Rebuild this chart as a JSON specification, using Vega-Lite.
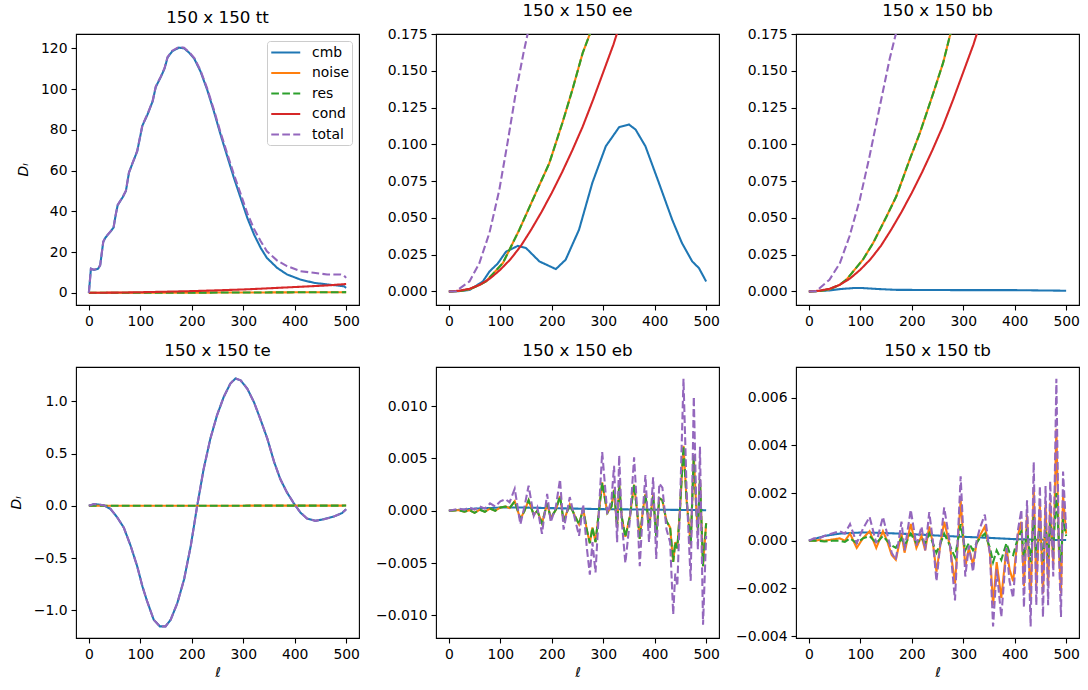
{
"$schema": "https://vega.github.io/schema/vega-lite/v6.json",
"padding": {"top": 2, "left": 8, "right": 10, "bottom": 5},
"config": {
  "font": "DejaVu Sans",
  "view": {"stroke": "#000000", "strokeWidth": 1.1},
  "axis": {"domain": false, "grid": false, "tickColor": "#000000", "tickWidth": 1.1, "tickSize": 5, "labelColor": "#000000", "labelFontSize": 13.9, "labelPadding": 4, "labelFlush": false, "labelOverlap": false, "titleFontSize": 13.9, "titleFontWeight": "normal", "titleColor": "#000000", "titleFontStyle": "italic"},
  "axisY": {"titlePadding": 10},
  "axisX": {"titlePadding": 5},
  "title": {"fontSize": 16.7, "fontWeight": "normal", "color": "#000000", "offset": 7, "baseline": "alphabetic", "anchor": "middle"},
  "line": {"strokeWidth": 2.08, "clip": true}
},
"datasets": {
"tt": [
{"l":0,"cmb":0,"noise":0,"res":0,"cond":0,"total":0},
{"l":4,"cmb":11.8,"total":11.8},
{"l":10,"cmb":11.2,"total":11.3},
{"l":18,"cmb":11.8,"total":11.9},
{"l":22,"cmb":13.5,"total":13.6},
{"l":28,"cmb":25,"total":25.1},
{"l":32,"cmb":27,"total":27.1},
{"l":42,"cmb":30,"total":30.1},
{"l":48,"cmb":32,"total":32.1},
{"l":52,"cmb":38,"cond":0.08,"total":38.1},
{"l":56,"cmb":43,"total":43.1},
{"l":66,"cmb":47,"total":47.1},
{"l":72,"cmb":50,"total":50.1},
{"l":78,"cmb":59,"total":59.1},
{"l":84,"cmb":63,"total":63.1},
{"l":94,"cmb":69.5,"total":69.6},
{"l":100,"cmb":77,"cond":0.27,"total":77.2},
{"l":104,"cmb":82,"total":82.2},
{"l":114,"cmb":87.5,"total":87.7},
{"l":124,"cmb":94,"total":94.2},
{"l":130,"cmb":101,"total":101.2},
{"l":140,"cmb":106,"total":106.2},
{"l":147,"cmb":110,"total":110.2},
{"l":153,"cmb":115.5,"cond":0.55,"total":115.7},
{"l":162,"cmb":118.5,"total":118.8},
{"l":175,"cmb":120.3,"total":120.6},
{"l":185,"cmb":120,"total":120.3},
{"l":195,"cmb":117.8,"total":118.1},
{"l":205,"cmb":114.8,"cond":0.85,"total":115.2},
{"l":217,"cmb":108.6,"total":109.1},
{"l":230,"cmb":99.6,"total":100.2},
{"l":243,"cmb":89,"total":89.8},
{"l":256,"cmb":77.6,"noise":0.1,"res":0.1,"cond":1.25,"total":78.6},
{"l":269,"cmb":66.9,"total":68.2},
{"l":282,"cmb":56.3,"total":58},
{"l":295,"cmb":46.5,"total":48.5},
{"l":308,"cmb":36.7,"cond":1.7,"total":39},
{"l":321,"cmb":28.6,"total":31.3},
{"l":334,"cmb":22,"total":25.3},
{"l":346,"cmb":17.1,"total":20.4},
{"l":366,"cmb":12.2,"cond":2.4,"total":15.8},
{"l":385,"cmb":9,"total":13.1},
{"l":411,"cmb":6.5,"cond":2.95,"total":10.6},
{"l":437,"cmb":4.9,"total":9.8},
{"l":463,"cmb":4.1,"cond":3.6,"total":9.0},
{"l":489,"cmb":3.4,"total":9.0},
{"l":496,"cmb":3.2,"total":8.4},
{"l":500,"cmb":2.4,"noise":0.3,"res":0.3,"cond":4.3,"total":7.3}
],
"ee": [
{"l":0,"cmb":0,"noise":0,"res":0,"cond":0,"total":0},
{"l":14,"total":0.0002},
{"l":20,"cmb":0.0002,"noise":0.0003,"res":0.0003,"cond":0.0005},
{"l":40,"cmb":0.001,"noise":0.0015,"res":0.0015,"cond":0.0018,"total":0.0068},
{"l":59,"total":0.019},
{"l":60,"noise":0.0045,"res":0.0045,"cond":0.0045},
{"l":66,"cmb":0.0068},
{"l":72,"noise":0.0068,"res":0.0068},
{"l":79,"cmb":0.0136,"total":0.04},
{"l":80,"cond":0.0088},
{"l":95,"cmb":0.019},
{"l":98,"total":0.069},
{"l":100,"cond":0.0148},
{"l":105,"noise":0.0193,"res":0.0193},
{"l":111,"cmb":0.027},
{"l":114,"total":0.101},
{"l":120,"cond":0.022},
{"l":130,"total":0.135},
{"l":134,"cmb":0.031},
{"l":137,"noise":0.042,"res":0.042},
{"l":140,"cond":0.031},
{"l":145,"total":0.162},
{"l":150,"cmb":0.0295},
{"l":153,"total":0.175},
{"l":160,"cond":0.042},
{"l":169,"noise":0.067,"res":0.067},
{"l":176,"cmb":0.0204},
{"l":180,"cond":0.054,"total":0.24},
{"l":195,"noise":0.087,"res":0.087},
{"l":200,"cond":0.067},
{"l":208,"cmb":0.0152},
{"l":220,"cond":0.081},
{"l":221,"noise":0.115,"res":0.115},
{"l":227,"cmb":0.0216},
{"l":240,"noise":0.137,"res":0.137,"cond":0.096},
{"l":253,"cmb":0.042},
{"l":260,"noise":0.162,"res":0.162,"cond":0.112},
{"l":274,"noise":0.175,"res":0.175},
{"l":279,"cmb":0.074},
{"l":280,"cond":0.13},
{"l":300,"noise":0.21,"res":0.21,"cond":0.149,"total":0.6},
{"l":305,"cmb":0.0987},
{"l":320,"cond":0.168},
{"l":331,"cmb":0.1117},
{"l":340,"cond":0.19},
{"l":350,"cmb":0.1135},
{"l":363,"cmb":0.11},
{"l":382,"cmb":0.0987},
{"l":400,"noise":0.36,"res":0.36,"cond":0.26},
{"l":408,"cmb":0.074},
{"l":434,"cmb":0.0488},
{"l":453,"cmb":0.0329},
{"l":473,"cmb":0.0204},
{"l":486,"cmb":0.0159},
{"l":500,"cmb":0.0068,"noise":0.55,"res":0.55,"cond":0.4,"total":1.5}
],
"bb": [
{"l":0,"cmb":0,"noise":0,"res":0,"cond":0,"total":0},
{"l":14,"total":0.0002},
{"l":20,"noise":0.0003,"res":0.0003,"cond":0.0005},
{"l":40,"cmb":0.0007,"noise":0.0015,"res":0.0015,"cond":0.0018,"total":0.008},
{"l":60,"cmb":0.0016,"noise":0.0045,"res":0.0045,"cond":0.0045,"total":0.019},
{"l":73,"noise":0.008,"res":0.008},
{"l":79,"total":0.0375},
{"l":80,"cond":0.0088},
{"l":86,"cmb":0.0023},
{"l":99,"total":0.0624},
{"l":100,"cond":0.0148},
{"l":105,"cmb":0.0023,"noise":0.0216,"res":0.0216},
{"l":118,"total":0.092},
{"l":120,"cond":0.022},
{"l":125,"noise":0.033,"res":0.033},
{"l":138,"cmb":0.0016,"total":0.126},
{"l":140,"cond":0.031},
{"l":151,"noise":0.051,"res":0.051},
{"l":157,"total":0.158},
{"l":160,"cond":0.042},
{"l":169,"total":0.175},
{"l":170,"cmb":0.0011,"noise":0.0647,"res":0.0647},
{"l":180,"cond":0.054},
{"l":196,"noise":0.0897,"res":0.0897},
{"l":200,"cond":0.067,"total":0.25},
{"l":216,"noise":0.108,"res":0.108},
{"l":220,"cond":0.081},
{"l":240,"cond":0.096},
{"l":242,"noise":0.135,"res":0.135},
{"l":260,"cond":0.112},
{"l":261,"noise":0.1555,"res":0.1555},
{"l":275,"noise":0.175,"res":0.175},
{"l":280,"cond":0.13},
{"l":300,"cmb":0.0009,"noise":0.21,"res":0.21,"cond":0.149,"total":0.6},
{"l":320,"cond":0.168},
{"l":340,"cond":0.19},
{"l":400,"cmb":0.0009,"noise":0.36,"res":0.36,"cond":0.26},
{"l":500,"cmb":0.0005,"noise":0.55,"res":0.55,"cond":0.4,"total":1.4}
],
"te": [
{"l":0,"cmb":0,"noise":0,"res":0,"total":0},
{"l":10,"cmb":0.016,"total":0.016},
{"l":29,"cmb":0.006,"total":0.006},
{"l":42,"cmb":-0.03,"total":-0.03},
{"l":55,"cmb":-0.11,"total":-0.11},
{"l":68,"cmb":-0.21,"total":-0.21},
{"l":81,"cmb":-0.38,"total":-0.38},
{"l":94,"cmb":-0.58,"total":-0.58},
{"l":104,"cmb":-0.77,"total":-0.77},
{"l":113,"cmb":-0.91,"total":-0.91},
{"l":126,"cmb":-1.09,"total":-1.09},
{"l":138,"cmb":-1.154,"total":-1.154},
{"l":149,"cmb":-1.154,"total":-1.154},
{"l":159,"cmb":-1.09,"total":-1.09},
{"l":172,"cmb":-0.93,"total":-0.93},
{"l":185,"cmb":-0.705,"total":-0.705},
{"l":198,"cmb":-0.385,"total":-0.385},
{"l":210,"cmb":-0.016,"total":-0.016},
{"l":223,"cmb":0.35,"total":0.35},
{"l":236,"cmb":0.64,"total":0.64},
{"l":249,"cmb":0.865,"total":0.865},
{"l":250,"noise":0.001,"res":0.001},
{"l":262,"cmb":1.04,"total":1.04},
{"l":275,"cmb":1.17,"total":1.17},
{"l":285,"cmb":1.218,"total":1.218},
{"l":295,"cmb":1.2,"total":1.2},
{"l":308,"cmb":1.12,"total":1.12},
{"l":321,"cmb":0.99,"total":0.99},
{"l":334,"cmb":0.82,"total":0.82},
{"l":347,"cmb":0.64,"total":0.64},
{"l":360,"cmb":0.42,"total":0.42},
{"l":372,"cmb":0.256,"total":0.256},
{"l":385,"cmb":0.128,"total":0.128},
{"l":398,"cmb":0.026,"total":0.026},
{"l":411,"cmb":-0.064,"total":-0.064},
{"l":424,"cmb":-0.122,"total":-0.122},
{"l":440,"cmb":-0.144,"total":-0.144},
{"l":457,"cmb":-0.128,"total":-0.128},
{"l":476,"cmb":-0.103,"total":-0.103},
{"l":492,"cmb":-0.07,"total":-0.07},
{"l":500,"cmb":-0.032,"noise":0.002,"res":0.002,"total":-0.032}
],
"eb": [
{"l":0,"cmb":0,"noise":0,"res":0,"total":0},
{"l":10,"noise":0.00003,"res":0.00003,"total":0.0001},
{"l":20,"noise":0.00005,"res":0.00005,"total":0.0002},
{"l":30,"noise":-0.0001,"res":-0.0001,"total":0.0001},
{"l":40,"noise":0.00005,"res":0.00005,"total":0.0003},
{"l":50,"cmb":0.0002,"noise":-0.0002,"res":-0.0002,"total":0.0001},
{"l":60,"noise":0.0001,"res":0.0001,"total":0.0004},
{"l":70,"noise":-0.0001,"res":-0.0001,"total":0.0002},
{"l":80,"noise":0.0002,"res":0.0002,"total":0.0007},
{"l":90,"noise":0,"res":0,"total":0.0004},
{"l":100,"cmb":0.0003,"noise":0.0003,"res":0.0003,"total":0.0009},
{"l":110,"noise":0.0004,"res":0.0004,"total":0.0011},
{"l":118,"noise":0.00025,"res":0.00025,"total":0.0008},
{"l":128,"noise":0.0009,"res":0.0009,"total":0.0021},
{"l":139,"noise":-0.0008,"res":-0.0008,"total":-0.0013},
{"l":147,"cmb":0.0003,"noise":0,"res":0,"total":0.0004},
{"l":155,"noise":0.001,"res":0.001,"total":0.0024},
{"l":165,"noise":-0.0004,"res":-0.0004,"total":-0.0005},
{"l":172,"noise":0,"res":0,"total":0.0003},
{"l":181,"noise":-0.0012,"res":-0.0012,"total":-0.0022},
{"l":191,"noise":0.0007,"res":0.0007,"total":0.0016},
{"l":198,"cmb":0.00025,"noise":-0.0007,"res":-0.0007,"total":-0.0011},
{"l":208,"noise":0.0001,"res":0.0001,"total":0.0004},
{"l":216,"noise":0.0014,"res":0.0014,"total":0.003},
{"l":223,"noise":-0.001,"res":-0.001,"total":-0.0018},
{"l":235,"noise":0.0006,"res":0.0006,"total":0.0013},
{"l":245,"noise":-0.0005,"res":-0.0005,"total":-0.0008},
{"l":253,"noise":-0.0013,"res":-0.0013,"total":-0.0024},
{"l":261,"noise":0.0002,"res":0.0002,"total":0.0006},
{"l":268,"noise":-0.0018,"res":-0.0018,"total":-0.0035},
{"l":274,"noise":-0.0031,"res":-0.0031,"total":-0.0061},
{"l":279,"noise":-0.0016,"res":-0.0016,"total":-0.003},
{"l":285,"noise":-0.003,"res":-0.003,"total":-0.0059},
{"l":298,"cmb":0.00015,"noise":0.0027,"res":0.0027,"total":0.0056},
{"l":308,"noise":-0.0002,"res":-0.0002,"total":-0.0003},
{"l":316,"noise":0.0004,"res":0.0004,"total":0.001},
{"l":321,"noise":0.002,"res":0.002,"total":0.0043},
{"l":327,"noise":-0.0016,"res":-0.0016,"total":-0.003},
{"l":331,"noise":0.0025,"res":0.0025,"total":0.0053},
{"l":336,"noise":-0.0006,"res":-0.0006,"total":-0.001},
{"l":343,"noise":-0.0025,"res":-0.0025,"total":-0.005},
{"l":352,"noise":-0.0005,"res":-0.0005,"total":-0.0008},
{"l":360,"noise":0.0025,"res":0.0025,"total":0.0051},
{"l":366,"noise":-0.0001,"res":-0.0001,"total":0},
{"l":371,"noise":-0.0027,"res":-0.0027,"total":-0.0053},
{"l":377,"noise":0,"res":0,"total":0},
{"l":382,"noise":0.0016,"res":0.0016,"total":0.0034},
{"l":389,"noise":-0.0016,"res":-0.0016,"total":-0.003},
{"l":397,"cmb":0.0001,"noise":0.0015,"res":0.0015,"total":0.0032},
{"l":403,"noise":-0.0024,"res":-0.0024,"total":-0.0046},
{"l":409,"noise":0.0012,"res":0.0012,"total":0.0026},
{"l":415,"noise":0.001,"res":0.001,"total":0.0022},
{"l":423,"noise":-0.001,"res":-0.001,"total":-0.0018},
{"l":430,"noise":-0.0016,"res":-0.0016,"total":-0.003},
{"l":436,"noise":-0.0049,"res":-0.0049,"total":-0.0099},
{"l":440,"noise":-0.003,"res":-0.003,"total":-0.006},
{"l":444,"noise":-0.0036,"res":-0.0036,"total":-0.0072},
{"l":449,"noise":0,"res":0,"total":0},
{"l":456,"noise":0.0062,"res":0.0062,"total":0.0126},
{"l":462,"noise":0.001,"res":0.001,"total":0.002},
{"l":470,"noise":-0.0033,"res":-0.0033,"total":-0.0067},
{"l":476,"noise":0.0053,"res":0.0053,"total":0.0109},
{"l":481,"noise":0,"res":0,"total":0},
{"l":484,"noise":-0.0019,"res":-0.0019,"total":-0.0037},
{"l":488,"noise":0.003,"res":0.003,"total":0.0061},
{"l":494,"noise":-0.0053,"res":-0.0053,"total":-0.0109},
{"l":500,"cmb":0.00005,"noise":-0.0012,"res":-0.0012,"total":-0.0024}
],
"tb": [
{"l":0,"cmb":0,"noise":0,"res":0,"total":0},
{"l":10,"noise":0,"res":0,"total":0.0001},
{"l":20,"noise":0.00003,"res":0,"total":0.0001},
{"l":30,"cmb":0.0002,"noise":0,"res":-0.00003,"total":0.0002},
{"l":45,"noise":0.00005,"res":0,"total":0.0003},
{"l":60,"cmb":0.0003,"noise":0.0001,"res":0,"total":0.0004},
{"l":70,"noise":0,"res":-0.00005,"total":0.0003},
{"l":80,"noise":0.0003,"res":0.0001,"total":0.0007},
{"l":93,"noise":-0.0003,"res":-0.0001,"total":-0.0001},
{"l":105,"cmb":0.00035,"noise":0.0001,"res":0.0001,"total":0.0005},
{"l":118,"noise":0.0004,"res":0.0002,"total":0.001},
{"l":131,"noise":-0.0003,"res":-0.0001,"total":-0.0001},
{"l":144,"noise":0.0004,"res":0.0002,"total":0.001},
{"l":152,"cmb":0.00032,"noise":0,"res":0,"total":0.0003},
{"l":161,"noise":-0.0006,"res":-0.0002,"total":-0.0005},
{"l":169,"noise":-0.0008,"res":-0.0003,"total":-0.0008},
{"l":180,"noise":0.0003,"res":0.0001,"total":0.0008},
{"l":186,"noise":-0.0005,"res":-0.0002,"total":-0.0004},
{"l":198,"cmb":0.00028,"noise":0.0007,"res":0.0003,"total":0.0013},
{"l":209,"noise":-0.0003,"res":-0.0001,"total":-0.0002},
{"l":219,"noise":0.0002,"res":0.0001,"total":0.0006},
{"l":226,"noise":-0.0004,"res":-0.0001,"total":-0.0004},
{"l":234,"noise":0.0006,"res":0.0003,"total":0.0012},
{"l":241,"noise":-0.0001,"res":-0.0001,"total":0},
{"l":248,"cmb":0.00022,"noise":-0.0013,"res":-0.0005,"total":-0.0017},
{"l":256,"noise":-0.0001,"res":-0.0001,"total":0},
{"l":263,"noise":0.0008,"res":0.0003,"total":0.0014},
{"l":274,"noise":-0.0002,"res":-0.0002,"total":-0.0001},
{"l":284,"noise":-0.0018,"res":-0.0007,"total":-0.0025},
{"l":295,"cmb":0.00017,"noise":0.0017,"res":0.0007,"total":0.0027},
{"l":304,"noise":-0.0011,"res":-0.0004,"total":-0.0015},
{"l":311,"noise":-0.0003,"res":-0.0001,"total":-0.0002},
{"l":319,"noise":-0.001,"res":-0.0004,"total":-0.0013},
{"l":326,"noise":-0.0001,"res":-0.0001,"total":0},
{"l":332,"noise":0.0002,"res":0.0001,"total":0.0005},
{"l":342,"noise":0.0006,"res":0.0003,"total":0.0011},
{"l":352,"cmb":0.00012,"noise":-0.0005,"res":-0.0003,"total":-0.0006},
{"l":358,"noise":-0.0027,"res":-0.0009,"total":-0.0036},
{"l":365,"noise":-0.0009,"res":-0.0004,"total":-0.0012},
{"l":374,"noise":-0.0024,"res":-0.0008,"total":-0.0032},
{"l":384,"noise":-0.0003,"res":-0.0001,"total":-0.0003},
{"l":390,"noise":-0.0012,"res":-0.0005,"total":-0.0017},
{"l":397,"cmb":0.00007,"noise":-0.0017,"res":-0.0006,"total":-0.0024},
{"l":406,"noise":0.0002,"res":0.0001,"total":0.0004},
{"l":413,"noise":0.0008,"res":0.0004,"total":0.0013},
{"l":418,"noise":-0.0019,"res":-0.0007,"total":-0.0028},
{"l":424,"noise":0.0011,"res":0.0005,"total":0.0017},
{"l":431,"noise":-0.0025,"res":-0.0009,"total":-0.0036},
{"l":437,"noise":0.0022,"res":0.001,"total":0.0033},
{"l":442,"noise":-0.0019,"res":-0.0007,"total":-0.0027},
{"l":449,"cmb":0.00004,"noise":0.0015,"res":0.0007,"total":0.0023},
{"l":455,"noise":-0.0022,"res":-0.0009,"total":-0.0032},
{"l":460,"noise":0.0015,"res":0.0007,"total":0.0023},
{"l":465,"noise":-0.0019,"res":-0.0007,"total":-0.0027},
{"l":469,"noise":0.0016,"res":0.0008,"total":0.0025},
{"l":475,"noise":-0.001,"res":-0.0004,"total":-0.0015},
{"l":481,"noise":0.0047,"res":0.002,"total":0.0068},
{"l":486,"noise":-0.0004,"res":-0.0001,"total":-0.0005},
{"l":490,"noise":-0.0022,"res":-0.0009,"total":-0.0032},
{"l":494,"noise":0.0019,"res":0.0009,"total":0.0029},
{"l":500,"cmb":0.00003,"noise":0.0003,"res":0.0002,"total":0.0005}
]
},
"columns": 3,
"bounds": "flush",
"spacing": {"row": 62, "column": 77},
"resolve": {"scale": {"color": "independent", "strokeDash": "independent"}, "legend": {"color": "independent", "strokeDash": "independent"}},
"concat": [
{
 "title": "150 x 150 tt", "width": 283, "height": 271,
 "data": {"name": "tt"},
 "transform": [{"fold": ["cmb","noise","res","cond","total"], "as": ["s","v"]}, {"filter": "isValid(datum.v)"}],
 "mark": {"type": "line", "clip": true, "strokeWidth": 2.08},
 "encoding": {
  "x": {"field": "l", "type": "quantitative", "scale": {"domain": [-25, 525], "nice": false, "zero": false}, "axis": {"values": [0,100,200,300,400,500], "format": "d", "title": null}},
  "y": {"field": "v", "type": "quantitative", "scale": {"domain": [-6, 127], "nice": false, "zero": false}, "axis": {"values": [0,20,40,60,80,100,120], "format": "d", "title": "Dₗ"}},
  "color": {"field": "s", "type": "nominal", "scale": {"domain": ["cmb","noise","res","cond","total"], "range": ["#1f77b4","#ff7f0e","#2ca02c","#d62728","#9467bd"]},
   "legend": {"orient": "top-right", "title": null, "offset": 7, "symbolType": "M-1,0H3", "symbolSize": 210, "symbolStrokeWidth": 2.08, "labelFontSize": 13.9, "labelColor": "#000000", "labelOffset": 25, "rowPadding": 4.5, "padding": 3, "fillColor": "rgba(255,255,255,0.8)", "strokeColor": "#cccccc", "cornerRadius": 3}},
  "strokeDash": {"field": "s", "type": "nominal", "scale": {"domain": ["cmb","noise","res","cond","total"], "range": [[1,0],[1,0],[7.7,3.3],[1,0],[7.7,3.3]]},
   "legend": {"orient": "top-right", "title": null, "offset": 7, "symbolType": "M-1,0H3", "symbolSize": 210, "symbolStrokeWidth": 2.08, "labelFontSize": 13.9, "labelColor": "#000000", "labelOffset": 25, "rowPadding": 4.5, "padding": 3, "fillColor": "rgba(255,255,255,0.8)", "strokeColor": "#cccccc", "cornerRadius": 3}}
 }
},
{
 "title": "150 x 150 ee", "width": 283, "height": 271,
 "data": {"name": "ee"},
 "transform": [{"fold": ["cmb","noise","res","cond","total"], "as": ["s","v"]}, {"filter": "isValid(datum.v)"}],
 "mark": {"type": "line", "clip": true, "strokeWidth": 2.08},
 "encoding": {
  "x": {"field": "l", "type": "quantitative", "scale": {"domain": [-25, 525], "nice": false, "zero": false}, "axis": {"values": [0,100,200,300,400,500], "format": "d", "title": null}},
  "y": {"field": "v", "type": "quantitative", "scale": {"domain": [-0.0092, 0.175], "nice": false, "zero": false}, "axis": {"values": [0,0.025,0.05,0.075,0.1,0.125,0.15,0.175], "format": ".3f", "title": null}},
  "color": {"field": "s", "type": "nominal", "scale": {"domain": ["cmb","noise","res","cond","total"], "range": ["#1f77b4","#ff7f0e","#2ca02c","#d62728","#9467bd"]}, "legend": null},
  "strokeDash": {"field": "s", "type": "nominal", "scale": {"domain": ["cmb","noise","res","cond","total"], "range": [[1,0],[1,0],[7.7,3.3],[1,0],[7.7,3.3]]}, "legend": null}
 }
},
{
 "title": "150 x 150 bb", "width": 283, "height": 271,
 "data": {"name": "bb"},
 "transform": [{"fold": ["cmb","noise","res","cond","total"], "as": ["s","v"]}, {"filter": "isValid(datum.v)"}],
 "mark": {"type": "line", "clip": true, "strokeWidth": 2.08},
 "encoding": {
  "x": {"field": "l", "type": "quantitative", "scale": {"domain": [-25, 525], "nice": false, "zero": false}, "axis": {"values": [0,100,200,300,400,500], "format": "d", "title": null}},
  "y": {"field": "v", "type": "quantitative", "scale": {"domain": [-0.0092, 0.175], "nice": false, "zero": false}, "axis": {"values": [0,0.025,0.05,0.075,0.1,0.125,0.15,0.175], "format": ".3f", "title": null}},
  "color": {"field": "s", "type": "nominal", "scale": {"domain": ["cmb","noise","res","cond","total"], "range": ["#1f77b4","#ff7f0e","#2ca02c","#d62728","#9467bd"]}, "legend": null},
  "strokeDash": {"field": "s", "type": "nominal", "scale": {"domain": ["cmb","noise","res","cond","total"], "range": [[1,0],[1,0],[7.7,3.3],[1,0],[7.7,3.3]]}, "legend": null}
 }
},
{
 "title": "150 x 150 te", "width": 283, "height": 271,
 "data": {"name": "te"},
 "transform": [{"fold": ["cmb","noise","res","cond","total"], "as": ["s","v"]}, {"filter": "isValid(datum.v)"}],
 "mark": {"type": "line", "clip": true, "strokeWidth": 2.08},
 "encoding": {
  "x": {"field": "l", "type": "quantitative", "scale": {"domain": [-25, 525], "nice": false, "zero": false}, "axis": {"values": [0,100,200,300,400,500], "format": "d", "title": "ℓ"}},
  "y": {"field": "v", "type": "quantitative", "scale": {"domain": [-1.265, 1.328], "nice": false, "zero": false}, "axis": {"values": [-1,-0.5,0,0.5,1], "format": ".1f", "title": "Dₗ"}},
  "color": {"field": "s", "type": "nominal", "scale": {"domain": ["cmb","noise","res","cond","total"], "range": ["#1f77b4","#ff7f0e","#2ca02c","#d62728","#9467bd"]}, "legend": null},
  "strokeDash": {"field": "s", "type": "nominal", "scale": {"domain": ["cmb","noise","res","cond","total"], "range": [[1,0],[1,0],[7.7,3.3],[1,0],[7.7,3.3]]}, "legend": null}
 }
},
{
 "title": "150 x 150 eb", "width": 283, "height": 271,
 "data": {"name": "eb"},
 "transform": [{"fold": ["cmb","noise","res","cond","total"], "as": ["s","v"]}, {"filter": "isValid(datum.v)"}],
 "mark": {"type": "line", "clip": true, "strokeWidth": 2.08},
 "encoding": {
  "x": {"field": "l", "type": "quantitative", "scale": {"domain": [-25, 525], "nice": false, "zero": false}, "axis": {"values": [0,100,200,300,400,500], "format": "d", "title": "ℓ"}},
  "y": {"field": "v", "type": "quantitative", "scale": {"domain": [-0.01216, 0.01373], "nice": false, "zero": false}, "axis": {"values": [-0.01,-0.005,0,0.005,0.01], "format": ".3f", "title": null}},
  "color": {"field": "s", "type": "nominal", "scale": {"domain": ["cmb","noise","res","cond","total"], "range": ["#1f77b4","#ff7f0e","#2ca02c","#d62728","#9467bd"]}, "legend": null},
  "strokeDash": {"field": "s", "type": "nominal", "scale": {"domain": ["cmb","noise","res","cond","total"], "range": [[1,0],[1,0],[7.7,3.3],[1,0],[7.7,3.3]]}, "legend": null}
 }
},
{
 "title": "150 x 150 tb", "width": 283, "height": 271,
 "data": {"name": "tb"},
 "transform": [{"fold": ["cmb","noise","res","cond","total"], "as": ["s","v"]}, {"filter": "isValid(datum.v)"}],
 "mark": {"type": "line", "clip": true, "strokeWidth": 2.08},
 "encoding": {
  "x": {"field": "l", "type": "quantitative", "scale": {"domain": [-25, 525], "nice": false, "zero": false}, "axis": {"values": [0,100,200,300,400,500], "format": "d", "title": "ℓ"}},
  "y": {"field": "v", "type": "quantitative", "scale": {"domain": [-0.00408, 0.00729], "nice": false, "zero": false}, "axis": {"values": [-0.004,-0.002,0,0.002,0.004,0.006], "format": ".3f", "title": null}},
  "color": {"field": "s", "type": "nominal", "scale": {"domain": ["cmb","noise","res","cond","total"], "range": ["#1f77b4","#ff7f0e","#2ca02c","#d62728","#9467bd"]}, "legend": null},
  "strokeDash": {"field": "s", "type": "nominal", "scale": {"domain": ["cmb","noise","res","cond","total"], "range": [[1,0],[1,0],[7.7,3.3],[1,0],[7.7,3.3]]}, "legend": null}
 }
}
]
}
